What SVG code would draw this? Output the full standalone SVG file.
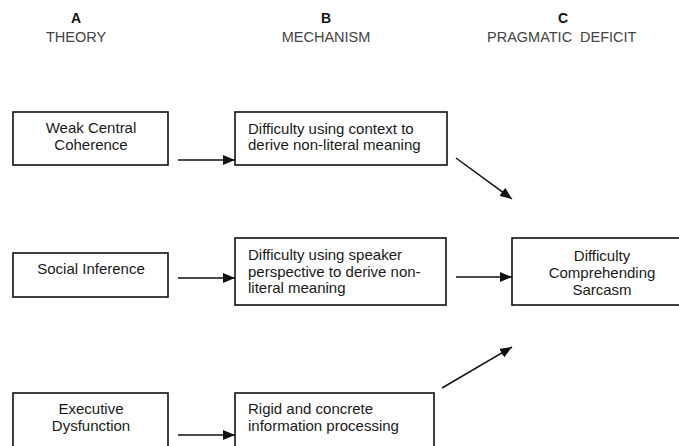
<svg xmlns="http://www.w3.org/2000/svg" width="679" height="446" viewBox="0 0 679 446">
<style>
.box{fill:#fff;stroke:#111;stroke-width:1.6}
.t{font-family:"Liberation Sans",Arial,sans-serif;font-size:15px;fill:#1a1a1a}
.c{text-anchor:middle}
.hl{font-family:"Liberation Sans",Arial,sans-serif;font-size:14px;font-weight:bold;fill:#111;text-anchor:middle}
.hd{font-family:"Liberation Sans",Arial,sans-serif;font-size:14.5px;fill:#444}
.conn{stroke:#111;stroke-width:1.5;fill:none;marker-end:url(#ah)}
</style>
<defs>
<marker id="ah" viewBox="0 0 12 10" refX="12" refY="5" markerWidth="12" markerHeight="10" markerUnits="userSpaceOnUse" orient="auto">
<path d="M0,0 L12,5 L0,10 z" fill="#111"/>
</marker>
</defs>
<rect width="679" height="446" fill="#fff"/>
<g id="headers">
<text class="hl" x="76" y="23">A</text>
<text class="hd" x="76" y="42" text-anchor="middle">THEORY</text>
<text class="hl" x="326" y="23">B</text>
<text class="hd" x="326" y="42" text-anchor="middle">MECHANISM</text>
<text class="hl" x="563" y="23">C</text>
<text class="hd" x="487" y="42">PRAGMATIC</text>
<text class="hd" x="580" y="42">DEFICIT</text>
</g>
<g id="n-weak-central-coherence">
<rect class="box" x="13" y="112" width="155" height="53"/>
<text class="t c" x="91" y="133">Weak Central</text>
<text class="t c" x="91" y="150">Coherence</text>
</g>
<g id="n-context">
<rect class="box" x="235" y="112" width="212" height="53"/>
<text class="t" x="248" y="134">Difficulty using context to</text>
<text class="t" x="248" y="150">derive non-literal meaning</text>
</g>
<g id="n-social-inference">
<rect class="box" x="13" y="253" width="155" height="44"/>
<text class="t c" x="91" y="274">Social Inference</text>
</g>
<g id="n-speaker">
<rect class="box" x="235" y="238" width="211" height="67"/>
<text class="t" x="248" y="260">Difficulty using speaker</text>
<text class="t" x="248" y="277">perspective to derive non-</text>
<text class="t" x="248" y="293">literal meaning</text>
</g>
<g id="n-sarcasm">
<rect class="box" x="512" y="238" width="185" height="67"/>
<text class="t c" x="602" y="261">Difficulty</text>
<text class="t c" x="602" y="278">Comprehending</text>
<text class="t c" x="602" y="295">Sarcasm</text>
</g>
<g id="n-executive">
<rect class="box" x="13" y="393" width="155" height="70"/>
<text class="t c" x="91" y="414">Executive</text>
<text class="t c" x="91" y="431">Dysfunction</text>
</g>
<g id="n-rigid">
<rect class="box" x="235" y="393" width="199" height="70"/>
<text class="t" x="248" y="414">Rigid and concrete</text>
<text class="t" x="248" y="431">information processing</text>
</g>
<g id="connectors">
<line class="conn" x1="178" y1="160" x2="235" y2="160"/>
<line class="conn" x1="178" y1="278" x2="235" y2="278"/>
<line class="conn" x1="178" y1="435" x2="235" y2="435"/>
<line class="conn" x1="456" y1="277" x2="512" y2="277"/>
<line class="conn" x1="456" y1="158" x2="512" y2="199"/>
<line class="conn" x1="442" y1="388" x2="512" y2="347"/>
</g>
</svg>
